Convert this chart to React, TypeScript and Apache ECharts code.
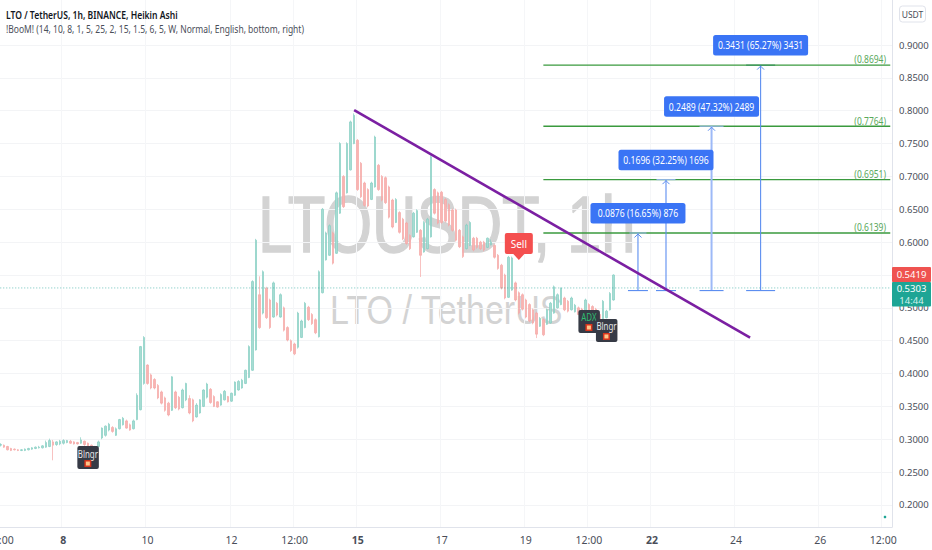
import React, { useEffect, useRef } from "react";
import * as echarts from "echarts";

// [open, close, low, high]
const baseDays = [
  [.291,.292,.289,.294],[.291,.288,.287,.292],[.289,.284,.283,.290],[.286,.283,.282,.287],[.285,.284,.283,.286],
  [.284,.283,.282,.285],[.283,.284,.282,.285],[.283,.285,.282,.286],[.284,.286,.283,.287],[.285,.287,.284,.288],
  [.286,.288,.285,.289],[.287,.288,.286,.290],[.287,.290,.286,.291],[.288,.295,.287,.298],[.289,.298,.288,.301],
  [.296,.291,.268,.299],[.292,.296,.290,.297],[.293,.297,.291,.299],[.294,.298,.292,.300],[.295,.298,.294,.299],
  [.297,.294,.293,.299],[.296,.293,.292,.297],[.295,.293,.292,.296],[.294,.299,.293,.303],[.297,.292,.290,.298],
  [.294,.288,.287,.295],[.291,.287,.286,.292],[.289,.287,.286,.290],[.289,.296,.288,.298],[.302,.317,.300,.318],
  [.306,.320,.304,.321],[.314,.323,.312,.325],[.318,.312,.310,.320],[.306,.316,.305,.318],[.316,.330,.315,.331],
  [.322,.332,.321,.334],[.328,.317,.316,.330],[.322,.314,.313,.324],[.316,.328,.315,.330],[.330,.367,.329,.370],
  [.345,.441,.344,.442],[.385,.455,.383,.457],
];
const firstSpikeFade = [
  [.413,.385,.383,.414],[.398,.378,.376,.400],[.391,.378,.376,.393],[.382,.363,.361,.384],[.372,.355,.353,.374],
  [.363,.344,.342,.365],[.355,.337,.335,.357],[.344,.395,.343,.396],[.372,.348,.346,.374],[.364,.346,.344,.366],
  [.348,.375,.347,.377],[.360,.385,.358,.386],[.362,.340,.338,.367],[.360,.328,.326,.362],[.334,.352,.333,.355],
  [.340,.360,.339,.361],[.350,.375,.349,.376],[.364,.384,.362,.386],[.376,.356,.354,.378],[.365,.350,.349,.367],
  [.357,.349,.348,.358],[.352,.368,.351,.370],[.360,.373,.359,.375],[.365,.357,.356,.366],[.358,.370,.357,.371],
  [.367,.387,.366,.388],[.375,.388,.374,.390],[.378,.390,.377,.392],[.385,.405,.384,.406],[.394,.441,.393,.443],
];
const secondRally = [
  [.405,.540,.404,.542],[.436,.603,.435,.605],[.520,.470,.468,.548],[.492,.555,.490,.557],[.530,.485,.483,.532],
  [.512,.470,.468,.514],[.486,.538,.485,.540],[.507,.489,.487,.509],[.486,.520,.485,.522],[.500,.466,.464,.502],
  [.470,.451,.449,.472],[.450,.435,.433,.452],[.445,.430,.428,.447],[.440,.492,.438,.494],[.455,.480,.454,.482],
  [.470,.507,.469,.509],[.501,.482,.480,.503],[.490,.476,.474,.492],[.482,.462,.460,.484],[.456,.555,.455,.557],
  [.523,.650,.522,.652],[.573,.614,.572,.616],[.580,.625,.579,.627],[.614,.568,.566,.616],[.583,.675,.582,.677],
  [.644,.750,.643,.752],[.700,.654,.652,.702],[.675,.750,.674,.752],[.710,.783,.709,.785],[.750,.793,.749,.796],
];
const peakFade = [
  [.755,.680,.678,.757],[.720,.669,.667,.722],[.690,.656,.654,.692],[.680,.655,.653,.682],[.665,.690,.664,.692],
  [.684,.760,.683,.762],[.717,.680,.678,.719],[.700,.664,.662,.702],[.698,.660,.658,.700],[.684,.638,.636,.686],
  [.664,.623,.621,.666],[.630,.665,.629,.667],[.645,.615,.613,.647],[.635,.605,.603,.637],[.629,.598,.596,.631],
  [.610,.590,.588,.612],[.608,.644,.607,.646],[.615,.648,.614,.650],[.618,.580,.547,.620],[.585,.630,.584,.632],
  [.590,.635,.589,.637],[.608,.730,.607,.732],[.680,.644,.642,.682],[.675,.629,.627,.677],[.676,.630,.628,.678],
  [.665,.632,.630,.667],[.657,.626,.624,.659],[.649,.618,.616,.651],[.649,.603,.601,.651],[.618,.593,.591,.620],
  [.608,.578,.576,.610],[.590,.626,.589,.628],[.595,.630,.594,.632],[.606,.588,.586,.608],[.606,.592,.590,.608],
];
const lastDays = [
  [.600,.590,.588,.602],[.600,.588,.586,.602],[.592,.606,.591,.607],[.596,.600,.595,.604],[.595,.577,.575,.597],
  [.580,.560,.558,.582],[.565,.530,.528,.567],[.550,.515,.513,.552],[.516,.577,.515,.579],[.527,.576,.526,.578],
  [.538,.512,.510,.540],[.523,.492,.490,.525],[.520,.498,.496,.522],[.512,.486,.484,.514],[.505,.480,.478,.507],
  [.497,.477,.475,.499],[.492,.460,.454,.494],[.472,.484,.471,.486],[.482,.459,.457,.484],[.475,.497,.474,.499],
  [.477,.507,.476,.509],[.492,.532,.491,.534],[.500,.520,.499,.522],[.505,.530,.504,.531],[.515,.497,.495,.517],
  [.510,.495,.493,.512],[.497,.515,.496,.517],[.494,.504,.493,.506],[.500,.490,.489,.502],[.498,.490,.489,.500],
  [.492,.512,.491,.514],[.505,.490,.489,.507],[.502,.488,.487,.504],[.498,.485,.484,.500],[.490,.478,.477,.492],
  [.478,.510,.477,.512],[.485,.495,.484,.497],[.497,.522,.496,.524],[.512,.550,.511,.551],
];

const slotCount = 255;
const tickSlots = [0, 18, 42, 66, 84, 102, 126, 150, 168, 186, 210, 234, 252];
const tickLabels = ["12:00", "8", "10", "12", "12:00", "15", "17", "19", "12:00", "22", "24", "26", "12:00"];
const boldTicks = ["8", "15", "22"];
const priceTicks = [0.2, 0.25, 0.3, 0.35, 0.4, 0.45, 0.5, 0.55, 0.6, 0.65, 0.7, 0.75, 0.8, 0.85, 0.9];
const priceLabels = [0.2, 0.25, 0.3, 0.35, 0.4, 0.45, 0.5, 0.6, 0.65, 0.7, 0.75, 0.8, 0.85, 0.9];

const trendSlots = [101, 214];
const trendPrices = [0.801, 0.4546];
const targetLevels = [0.6139, 0.6951, 0.7764, 0.8694];
const targetStart = 155;
const targetEnd = 254;
const measureSlots = [182, 190, 203, 217];
const measureBase = 0.5263;
const measureTexts = ["0.0876 (16.65%) 876", "0.1696 (32.25%) 1696", "0.2489 (47.32%) 2489", "0.3431 (65.27%) 3431"];
const lastClose = 0.5303;

const markerNames = ["Blngr", "ADX", "Blngr"];
const markerSlots = [25, 168, 173];
const markerPrices = [0.2897, 0.4967, 0.4831];
const sellSlot = 148;
const sellPrice = 0.5728;

const FONT = '"Noto Sans", sans-serif';
const candles = [...baseDays, ...firstSpikeFade, ...secondRally, ...peakFade, ...lastDays];
const slots = Array.from({ length: slotCount }, (_, i) => "s" + i);

function measureItem(params: any, api: any) {
  const i = params.dataIndex;
  const capHalf = [10, 10, 12, 14.5][i];
  const tHalf = [8.5, 9.5, 12, 14.5][i];
  const [x, yBase] = api.coord([measureSlots[i], measureBase]);
  const [, yTop] = api.coord([measureSlots[i], targetLevels[i]]);
  const stroke = i === 2 ? "#9db9f7" : "#5c8ef0";
  const lw = i === 2 ? 2 : 1.1;
  const s = { stroke, lineWidth: lw, fill: "none" };
  const cap = { stroke: "#5c8ef0", lineWidth: 1.1 };
  return {
    type: "group",
    children: [
      { type: "line", shape: { x1: x, y1: yBase, x2: x, y2: yTop }, style: s },
      { type: "line", shape: { x1: x - capHalf, y1: yBase, x2: x + capHalf, y2: yBase }, style: cap },
      { type: "line", shape: { x1: x - tHalf, y1: yTop, x2: x + tHalf, y2: yTop }, style: { stroke: i === 3 ? "#2e8b57" : "#9db9f7", lineWidth: 1 } },
      { type: "polyline", shape: { points: [[x - 3.5, yTop + 4.5], [x, yTop + 1], [x + 3.5, yTop + 4.5]] }, style: { stroke: "#5c8ef0", lineWidth: 1, fill: "none" } },
    ],
  };
}

function measureBoxItem(params: any, api: any) {
  const i = params.dataIndex;
  const [x] = api.coord([measureSlots[i], measureBase]);
  const [, yTop] = api.coord([measureSlots[i], targetLevels[i]]);
  return {
    type: "group",
    children: [
      { type: "rect", shape: { x: x - 47.5, y: yTop - 30, width: 95, height: 20.5, r: 2.5 }, style: { fill: "#3a74f5" } },
      { type: "text", x, y: yTop - 19.5, scaleX: 0.82, style: { text: measureTexts[i], fill: "#fff", font: "10.5px " + FONT, textAlign: "center", textVerticalAlign: "middle" } },
    ],
  };
}

function targetLabelItem(params: any, api: any) {
  const lvl = targetLevels[params.dataIndex];
  const [, y] = api.coord([targetEnd, lvl]);
  return { type: "text", x: 886, y: y - 5.5, scaleX: 0.85, style: { text: "(" + lvl.toFixed(4) + ")", fill: "#59a85c", font: "10px " + FONT, textAlign: "right", textVerticalAlign: "middle" } };
}

function markerItem(params: any, api: any) {
  const i = params.dataIndex;
  const [cx, top] = api.coord([markerSlots[i], markerPrices[i]]);
  const adx = markerNames[i] === "ADX";
  const iconY = top + 17.5;
  return {
    type: "group",
    children: [
      { type: "rect", shape: { x: cx - 10.5, y: top, width: 21.5, height: 23, r: 2 }, style: { fill: "#363a45" } },
      { type: "text", x: cx, y: top + 7.5, scaleX: 0.75, style: { text: markerNames[i], fill: adx ? "#2fbf71" : "#e8e8ea", font: "10.5px " + FONT, textAlign: "center", textVerticalAlign: "middle" } },
      { type: "rect", shape: { x: cx - 3.5, y: iconY - 3.5, width: 7, height: 7 }, style: { fill: "#d8351c" } },
      { type: "rect", shape: { x: cx - 2, y: iconY - 2, width: 4, height: 4 }, style: { fill: "#ffc58a" } },
    ],
  };
}

function sellItem(_params: any, api: any) {
  const [cx, tip] = api.coord([sellSlot, sellPrice]);
  return {
    type: "group",
    children: [
      { type: "rect", shape: { x: cx - 14, y: tip - 27, width: 28, height: 21, r: 2 }, style: { fill: "#f44f4f" } },
      { type: "polygon", shape: { points: [[cx - 5.5, tip - 6], [cx + 5.5, tip - 6], [cx, tip]] }, style: { fill: "#f44f4f" } },
      { type: "text", x: cx, y: tip - 16.5, style: { text: "Sell", fill: "#fff", font: "10px " + FONT, textAlign: "center", textVerticalAlign: "middle" } },
    ],
  };
}

export default function App() {
  const ref = useRef<HTMLDivElement>(null);
  useEffect(() => {
    document.body.style.margin = "0";
    const chart = echarts.init(ref.current!, null, { renderer: "svg" });
    const isTick = (i: number) => tickSlots.includes(i);
    const axisGray = "#e0e3eb";
    chart.setOption({
      animation: false,
      backgroundColor: "#ffffff",
      grid: { left: -1.5, top: 0, width: 893.5, height: 527, containLabel: false, outerBoundsMode: "none" },
      xAxis: {
        type: "category",
        data: slots,
        axisLine: { lineStyle: { color: axisGray } },
        axisTick: { show: false },
        splitLine: { show: true, interval: (i: number) => isTick(i), lineStyle: { color: "#f5f6f8" } },
        axisLabel: {
          interval: (i: number) => isTick(i),
          hideOverlap: false,
          margin: 7,
          color: "#4a4e59",
          fontFamily: FONT,
          fontSize: 10.5,
          formatter: (_v: string, i: number) => {
            const t = tickLabels[tickSlots.indexOf(i)] ?? "";
            return boldTicks.includes(t) ? "{b|" + t + "}" : t;
          },
          rich: { b: { fontWeight: "bold", color: "#4a4e59", fontFamily: FONT, fontSize: 10.5 } },
        },
      },
      yAxis: {
        type: "value",
        position: "right",
        min: 0.1665,
        max: 0.9685,
        axisLine: { show: true, lineStyle: { color: axisGray } },
        axisTick: { show: false, customValues: priceTicks },
        splitLine: { show: true, lineStyle: { color: "#f3f4f6" } },
        axisLabel: {
          customValues: priceLabels,
          margin: 7,
          color: "#4a4e59",
          fontFamily: FONT,
          fontSize: 9.5,
          formatter: (v: number) => v.toFixed(4),
        },
      },
      graphic: [
        { type: "text", x: 258, y: 224, scaleX: 0.77, z: 0, silent: true, style: { text: "LTOUSDT, 1h", font: '80px "Liberation Sans"', fill: "#d3d3d3", stroke: "#d3d3d3", lineWidth: 1.5, textVerticalAlign: "middle" } },
        { type: "text", x: 330, y: 310, scaleX: 0.85, z: 0, silent: true, style: { text: "LTO / TetherUS", font: '40px "Liberation Sans"', fill: "#d3d3d3", textVerticalAlign: "middle" } },
        { type: "text", x: 6, y: 15, scaleX: 0.78, z: 50, style: { text: "LTO / TetherUS, 1h, BINANCE, Heikin Ashi", font: "600 11px " + FONT, fill: "#131722", textVerticalAlign: "middle" } },
        { type: "text", x: 6, y: 29, scaleX: 0.81, z: 50, style: { text: "!BooM! (14, 10, 8, 1, 5, 25, 2, 15, 1.5, 6, 5, W, Normal, English, bottom, right)", font: "10.5px " + FONT, fill: "#4a4e59", textVerticalAlign: "middle" } },
        { type: "rect", z: 50, shape: { x: 899.5, y: 6, width: 26, height: 16, r: 3 }, style: { fill: "#fff", stroke: "#e0e3eb", lineWidth: 1 } },
        { type: "text", x: 912.5, y: 14, z: 51, style: { text: "USDT", font: "8.5px " + FONT, fill: "#4a4e59", textAlign: "center", textVerticalAlign: "middle" } },
        { type: "rect", z: 60, shape: { x: 892, y: 267, width: 39, height: 15, r: 1 }, style: { fill: "#ef5350" } },
        { type: "text", x: 911.5, y: 274.5, z: 61, style: { text: "0.5419", font: "9.5px " + FONT, fill: "#fff", textAlign: "center", textVerticalAlign: "middle" } },
        { type: "rect", z: 60, shape: { x: 892, y: 282, width: 39, height: 24.5, r: 1 }, style: { fill: "#1ea595" } },
        { type: "text", x: 911.5, y: 288, z: 61, style: { text: lastClose.toFixed(4), font: "9.5px " + FONT, fill: "#fff", textAlign: "center", textVerticalAlign: "middle" } },
        { type: "text", x: 911.5, y: 300, z: 61, style: { text: "14:44", font: "9.5px " + FONT, fill: "#d5f2ee", textAlign: "center", textVerticalAlign: "middle" } },
        { type: "circle", z: 50, shape: { cx: 885, cy: 517, r: 1.3 }, style: { fill: "#1ea595" } },
      ],
      series: [
        {
          type: "candlestick",
          data: candles,
          barWidth: 2,
          z: 3,
          itemStyle: { color: "#a6dcd3", color0: "#f9b4b2", borderColor: "#86cfc3", borderColor0: "#f5a8a6", borderWidth: 0.7 },
        },
        {
          type: "line",
          z: 4,
          showSymbol: false,
          data: [[0, lastClose], [254, lastClose]],
          lineStyle: { color: "#26a69a", width: 1, type: [1, 2], opacity: 0.65 },
        },
        ...targetLevels.map((lvl) => ({
          type: "line",
          z: 5,
          showSymbol: false,
          data: [[targetStart, lvl], [targetEnd, lvl]],
          lineStyle: { color: "#3a9a3e", width: 1.3 },
        })),
        {
          type: "custom",
          z: 6,
          coordinateSystem: "cartesian2d",
          renderItem: measureItem,
          data: measureSlots.map((s, i) => [s, targetLevels[i]]),
        },
        {
          type: "line",
          z: 7,
          showSymbol: false,
          data: trendSlots.map((s, i) => [s, trendPrices[i]]),
          lineStyle: { color: "#7b1fa2", width: 2.6 },
        },
        {
          type: "custom",
          z: 8,
          coordinateSystem: "cartesian2d",
          renderItem: measureBoxItem,
          data: measureSlots.map((s, i) => [s, targetLevels[i]]),
        },
        {
          type: "custom",
          z: 8,
          coordinateSystem: "cartesian2d",
          renderItem: targetLabelItem,
          data: targetLevels.map((l) => [targetEnd, l]),
        },
        {
          type: "custom",
          z: 9,
          coordinateSystem: "cartesian2d",
          renderItem: markerItem,
          data: markerSlots.map((s, i) => [s, markerPrices[i]]),
        },
        {
          type: "custom",
          z: 9,
          coordinateSystem: "cartesian2d",
          renderItem: sellItem,
          data: [[sellSlot, sellPrice]],
        },
      ],
    });
    return () => chart.dispose();
  }, []);
  return <div ref={ref} style={{ width: 932, height: 550 }} />;
}
